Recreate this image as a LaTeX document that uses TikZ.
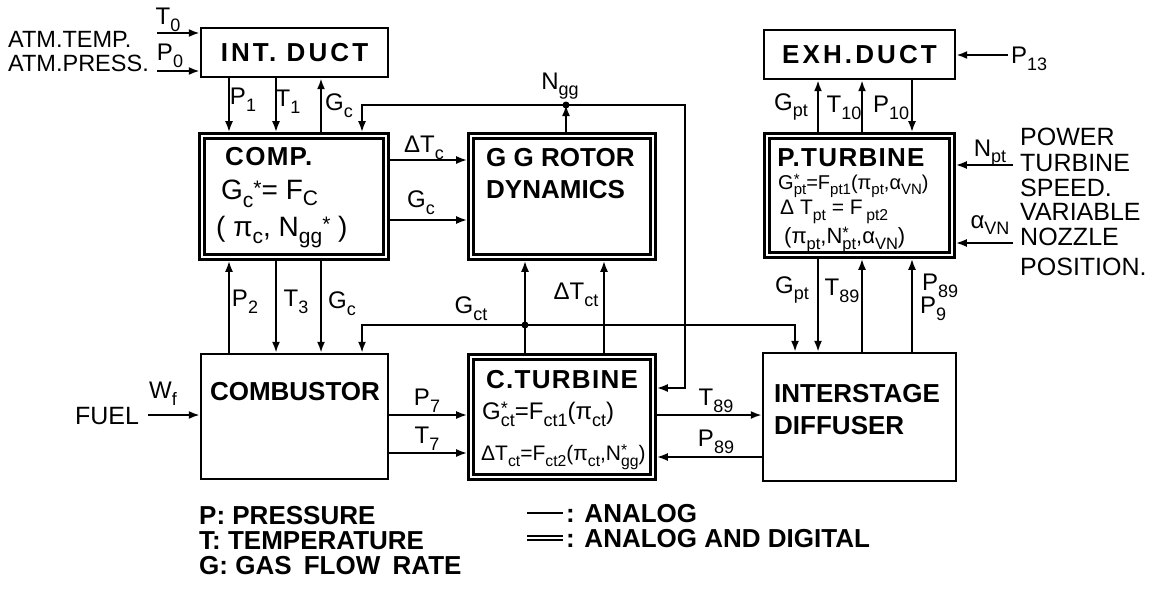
\documentclass[tikz,border=0pt]{standalone}
\usepackage{amsmath}
\usepackage{fontspec}
\setmainfont{Liberation Sans}
\usetikzlibrary{arrows.meta}
\makeatletter
\newcommand{\subsz}{\fontsize{\the\dimexpr\f@size pt*3/4\relax}{0pt}\selectfont}
\makeatother
\newcommand{\gvar}[2]{#1\raisebox{-.28em}{\subsz #2}}
\newcommand{\gvars}[2]{#1\rlap{\raisebox{.22em}{\subsz *}}\raisebox{-.28em}{\subsz #2}}
\newcommand{\gst}{\raisebox{.15em}{\subsz *}}

\begin{document}
\begin{tikzpicture}[x=1pt,y=-1pt,
  box/.style={draw,line width=2.4pt,inner sep=0pt},
  dbox/.style={draw,line width=2.4pt,double,double distance=2.8pt,outer sep=3.8pt,inner sep=0pt},
  arr/.style={line width=2pt,-{Latex[length=11pt,width=8pt]}},
  ttl/.style={font=\fontsize{26}{32}\selectfont\bfseries,inner sep=0pt},
  fml/.style={font=\fontsize{21}{23}\selectfont,inner sep=0pt},
  lbl/.style={font=\fontsize{24}{26}\selectfont,inner sep=0pt},
  txt/.style={font=\fontsize{25}{25.5}\selectfont,inner sep=0pt,align=left},
  leg/.style={font=\fontsize{26}{28}\selectfont\bfseries,inner sep=0pt}]
\useasboundingbox (0,0) rectangle (1155,592);

% ---- blocks ----
\node[box,ttl,minimum width=187,minimum height=49] (intduct) at (294.5,52.5)
  {\addfontfeature{LetterSpace=12}INT. DUCT};
\node[dbox,minimum width=184,minimum height=121] (comp) at (294,196.5) {};
\node[dbox,minimum width=182,minimum height=121] (gg) at (562,196.5) {};
\node[box,ttl,minimum width=191,minimum height=49] (exhduct) at (859.5,54.5)
  {\addfontfeature{LetterSpace=12}EXH.DUCT};
\node[dbox,minimum width=185,minimum height=119] (pturb) at (859.5,195.5) {};
\node[box,minimum width=187,minimum height=125] (comb) at (294.5,416.5) {};
\node[dbox,minimum width=182,minimum height=120] (cturb) at (562,417) {};
\node[box,minimum width=193,minimum height=128] (inter) at (859.5,417) {};

% ---- block texts ----
\node[ttl,anchor=west] (comptxt) at (225,157) {\addfontfeature{LetterSpace=5}COMP.};
\node[fml,font=\fontsize{28}{30}\selectfont,anchor=west] (compf1) at (221,194) {\gvar{G}{c}\gst= F\raisebox{-.2em}{\subsz C}};
\node[fml,font=\fontsize{28}{30}\selectfont,anchor=west] (compf2) at (216,232) {( \gvar{π}{c}, \gvar{N}{gg}\gst\ )};
\node[ttl,anchor=west,align=left] (ggtxt) at (486,174) {G G ROTOR\\DYNAMICS};
\node[ttl] (combtxt) at (295,392) {COMBUSTOR};
\node[ttl] (cturbtxt) at (562,380) {\addfontfeature{LetterSpace=5}C.TURBINE};
\node[fml,font=\fontsize{24}{26}\selectfont,anchor=west] (cturbf1) at (482,414) {\gvars{G}{ct}=F\raisebox{-.28em}{\subsz ct1}(\gvar{π}{ct})};
\node[fml,anchor=west] (cturbf2) at (481,457) {Δ\gvar{T}{ct}=F\raisebox{-.28em}{\subsz ct2}(\gvar{π}{ct},\gvars{N}{gg})};
\node[ttl,anchor=west,align=left] (intertxt) at (774,410) {INTERSTAGE\\DIFFUSER};
\node[ttl] (pturbtxt) at (851,158) {\addfontfeature{LetterSpace=5}P.TURBINE};
\node[fml,font=\fontsize{20}{22}\selectfont,anchor=west] (pturbf1) at (778,186) {\gvars{G}{pt}=F\raisebox{-.28em}{\subsz pt1}(\gvar{π}{pt},\gvar{α}{VN})};
\node[fml,anchor=west] (pturbf2) at (780,212) {Δ \gvar{T}{pt} = F\,\raisebox{-.28em}{\subsz pt2}};
\node[fml,font=\fontsize{22}{24}\selectfont,anchor=west] (pturbf3) at (784,240) {(\gvar{π}{pt},\gvars{N}{pt},\gvar{α}{VN})};

% ---- signal columns and rows ----
\coordinate (c1) at (229,0);
\coordinate (c2) at (276,0);
\coordinate (c3) at (321,0);
\coordinate (c4) at (362,0);
\coordinate (c5) at (818,0);
\coordinate (c6) at (862,0);
\coordinate (c7) at (912,0);
\coordinate (cg) at (795,0);
\coordinate (cd) at (604,0);
\coordinate (r1) at (0,160);
\coordinate (r2) at (0,220);
\coordinate (r3) at (0,415);
\coordinate (r4) at (0,453);
\coordinate (r5) at (0,457);

% ---- intake duct / compressor / combustor ----
\draw[arr] (intduct.south -| c1) -- (comp.north -| c1);
\draw[arr] (intduct.south -| c2) -- (comp.north -| c2);
\draw[arr] (comp.north -| c3) -- (intduct.south -| c3);
\draw[arr] (comb.north -| c1) -- (comp.south -| c1);
\draw[arr] (comp.south -| c2) -- (comb.north -| c2);
\draw[arr] (comp.south -| c3) -- (comb.north -| c3);
\draw[arr] (comp.east |- r1) -- (gg.west |- r1);
\draw[arr] (comp.east |- r2) -- (gg.west |- r2);

% ---- gas generator speed ----
\coordinate (nj) at (566,105);
\coordinate (nr) at (685,388);
\draw[arr] (gg.north -| nj) -- (nj);
\fill (nj) circle[radius=3.5pt];
\draw[arr] (nj) -| (comp.north -| c4);
\draw[arr] (nj) -| (nr) -- (cturb.east |- nr);

% ---- compressor turbine ----
\coordinate (gj) at (525,325);
\draw[arr] (cturb.north -| gj) -- (gg.south -| gj);
\fill (gj) circle[radius=3.5pt];
\draw[arr] (gj) -| (comb.north -| c4);
\draw[arr] (gj) -| (inter.north -| cg);
\draw[arr] (cturb.north -| cd) -- (gg.south -| cd);
\draw[arr] (comb.east |- r3) -- (cturb.west |- r3);
\draw[arr] (comb.east |- r4) -- (cturb.west |- r4);
\draw[arr] (cturb.east |- r3) -- (inter.west |- r3);
\draw[arr] (inter.west |- r5) -- (cturb.east |- r5);

% ---- power turbine / exhaust duct ----
\draw[arr] (pturb.north -| c5) -- (exhduct.south -| c5);
\draw[arr] (pturb.north -| c6) -- (exhduct.south -| c6);
\draw[arr] (exhduct.south -| c7) -- (pturb.north -| c7);
\draw[arr] (pturb.south -| c5) -- (inter.north -| c5);
\draw[arr] (inter.north -| c6) -- (pturb.south -| c6);
\draw[arr] (inter.north -| c7) -- (pturb.south -| c7);

% ---- outside inputs ----
\coordinate (t0) at (157,33);
\coordinate (p0) at (157,71);
\coordinate (wf) at (148,415);
\coordinate (p13) at (1008,55);
\coordinate (npt) at (1013,165);
\coordinate (avn) at (1013,243);
\draw[arr] (t0) -- (intduct.west |- t0);
\draw[arr] (p0) -- (intduct.west |- p0);
\draw[arr] (wf) -- (comb.west |- wf);
\draw[arr] (p13) -- (exhduct.east |- p13);
\draw[arr] (npt) -- (pturb.east |- npt);
\draw[arr] (avn) -- (pturb.east |- avn);

\node[txt,font=\fontsize{23.5}{25}\selectfont,anchor=west] (atmT) at (8,39) {ATM.TEMP.};
\node[txt,font=\fontsize{23.5}{25}\selectfont,anchor=west] (atmP) at (8,63) {ATM.PRESS.};
\node[txt] (fuel) at (107,416) {FUEL};
\node[txt,anchor=north west] (spd) at (1020,128) {POWER\\TURBINE\\SPEED.};
\node[txt,anchor=north west] (vnp) at (1020,203) {VARIABLE\\NOZZLE\\[4pt]POSITION.};

% ---- signal labels ----
\node[lbl] (lT0) at (168,20) {\gvar{T}{0}};
\node[lbl] (lP0) at (170,56) {\gvar{P}{0}};
\node[lbl] (lP1) at (243,100) {\gvar{P}{1}};
\node[lbl] (lT1) at (288,102) {\gvar{T}{1}};
\node[lbl] (lGc1) at (339,106) {\gvar{G}{c}};
\node[lbl] (lNgg) at (560,86) {\gvar{N}{gg}};
\node[lbl] (lTc) at (424,148) {Δ\gvar{T}{c}};
\node[lbl] (lGc2) at (421,203) {\gvar{G}{c}};
\node[lbl] (lP2) at (245,302) {\gvar{P}{2}};
\node[lbl] (lT3) at (296,302) {\gvar{T}{3}};
\node[lbl] (lGc3) at (342,304) {\gvar{G}{c}};
\node[lbl] (lGct) at (471,309) {\gvar{G}{ct}};
\node[lbl] (lTct) at (576,295) {Δ\gvar{T}{ct}};
\node[lbl] (lWf) at (163,394) {\gvar{W}{f}};
\node[lbl] (lP7) at (427,401) {\gvar{P}{7}};
\node[lbl] (lT7) at (427,439) {\gvar{T}{7}};
\node[lbl] (lT89) at (716,401) {\gvar{T}{89}};
\node[lbl] (lP89) at (716,442) {\gvar{P}{89}};
\node[lbl] (lGpt1) at (791,107) {\gvar{G}{pt}};
\node[lbl] (lT10) at (844,108) {\gvar{T}{10}};
\node[lbl] (lP10) at (891,108) {\gvar{P}{10}};
\node[lbl,anchor=west] (lP13) at (1011,59) {\gvar{P}{13}};
\node[lbl] (lNpt) at (990,153) {\gvar{N}{pt}};
\node[lbl] (lavn) at (990,225) {\gvar{α}{VN}};
\node[lbl] (lGpt2) at (792,290) {\gvar{G}{pt}};
\node[lbl] (lT89b) at (842,291) {\gvar{T}{89}};
\node[lbl] (lP89b) at (940,286) {\gvar{P}{89}};
\node[lbl] (lP9) at (933,309) {\gvar{P}{9}};

% ---- legend ----
\node[leg,anchor=west] (legP) at (199,516) {P: PRESSURE};
\node[leg,anchor=west] (legT) at (199,541) {T: TEMPERATURE};
\node[leg,anchor=west] (legG) at (199,566) {G: GAS\hspace{5pt} FLOW\hspace{5pt} RATE};
\coordinate (la) at (527,513);
\coordinate (lb) at (563,513);
\coordinate (lc) at (527,538);
\coordinate (ld) at (563,538);
\draw[line width=2pt] (la) -- (lb);
\draw[line width=1.8pt,double,double distance=2pt] (lc) -- (ld);
\node[leg,anchor=west] (legA) at (566,514) {: ANALOG};
\node[leg,anchor=west] (legD) at (566,539) {: ANALOG AND DIGITAL};
\end{tikzpicture}
\end{document}
